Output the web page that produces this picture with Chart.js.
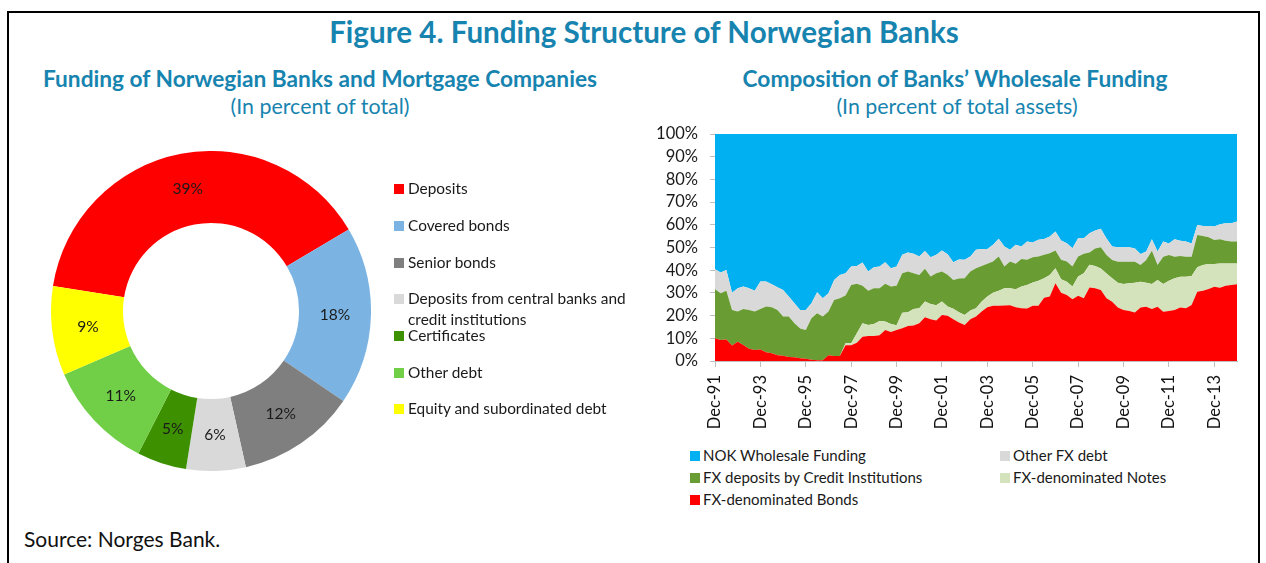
<!DOCTYPE html>
<html>
<head>
<meta charset="utf-8">
<script src="https://cdn.jsdelivr.net/npm/chart.js@4"></script>
<style>
  body { margin: 0; width: 1266px; height: 563px; background: #fff; font-family: Lato, sans-serif; overflow: hidden; position: relative; }
  .frame { position: absolute; left: 7px; top: 11px; width: 1249px; height: 600px; border: 2px solid #000; }
  .t { position: absolute; color: #1784b0; white-space: nowrap; text-align: center; }
  .main { left: 0; width: 1288px; top: 14px; font-size: 29.6px; font-weight: bold; }
  .sub { font-size: 22.7px; font-weight: bold; }
  .unit { font-size: 21.4px; }
  #donut { position: absolute; left: 51px; top: 151px; }
  #area { position: absolute; left: 640px; top: 124px; }
  .lg { position: absolute; font-size: 15.4px; color: #1a1a1a; line-height: 21px; }
  .lg span.b { display: inline-block; width: 10px; height: 10px; margin-right: 4px; vertical-align: 0px; }
  .src { position: absolute; left: 24px; top: 526px; font-size: 21px; color: #111; }
</style>
</head>
<body>
<div class="frame"></div>
<div class="t main">Figure 4. Funding Structure of Norwegian Banks</div>
<div class="t sub" style="left:20px;width:600px;top:65px;">Funding of Norwegian Banks and Mortgage Companies</div>
<div class="t unit" style="left:20px;width:600px;top:93px;">(In percent of total)</div>
<div class="t sub" style="left:655px;width:600px;top:65px;">Composition of Banks’ Wholesale Funding</div>
<div class="t unit" style="left:657px;width:600px;top:93px;">(In percent of total assets)</div>
<canvas id="donut" width="320" height="320"></canvas>
<canvas id="area" width="610" height="320"></canvas>
<div id="legendLeft"></div>
<div id="legendRight"></div>
<div class="src">Source: Norges Bank.</div>
<script>
// left chart: funding shares
let fundingLabels = ["Deposits", "Covered bonds", "Senior bonds", "Deposits from central banks and credit institutions", "Certificates", "Other debt", "Equity and subordinated debt"];
let fundingShares = [39, 18, 12, 6, 5, 11, 9];
let fundingColors = ["#ff0000", "#7bb4e3", "#7f7f7f", "#d9d9d9", "#3d9100", "#70cf46", "#ffff00"];

// right chart: quarterly, Dec-91 .. Dec-14
let quarters = [
  "Dec-91",
  "Mar-92","Jun-92","Sep-92","Dec-92", "Mar-93","Jun-93","Sep-93","Dec-93",
  "Mar-94","Jun-94","Sep-94","Dec-94", "Mar-95","Jun-95","Sep-95","Dec-95",
  "Mar-96","Jun-96","Sep-96","Dec-96", "Mar-97","Jun-97","Sep-97","Dec-97",
  "Mar-98","Jun-98","Sep-98","Dec-98", "Mar-99","Jun-99","Sep-99","Dec-99",
  "Mar-00","Jun-00","Sep-00","Dec-00", "Mar-01","Jun-01","Sep-01","Dec-01",
  "Mar-02","Jun-02","Sep-02","Dec-02", "Mar-03","Jun-03","Sep-03","Dec-03",
  "Mar-04","Jun-04","Sep-04","Dec-04", "Mar-05","Jun-05","Sep-05","Dec-05",
  "Mar-06","Jun-06","Sep-06","Dec-06", "Mar-07","Jun-07","Sep-07","Dec-07",
  "Mar-08","Jun-08","Sep-08","Dec-08", "Mar-09","Jun-09","Sep-09","Dec-09",
  "Mar-10","Jun-10","Sep-10","Dec-10", "Mar-11","Jun-11","Sep-11","Dec-11",
  "Mar-12","Jun-12","Sep-12","Dec-12", "Mar-13","Jun-13","Sep-13","Dec-13",
  "Mar-14","Jun-14","Sep-14","Dec-14"
];
let fxBonds = [
  10.0,9.3,9.5,6.8,8.5,7.0,5.4,4.8,5.1,3.8, 3.4,2.5,2.3,1.8,1.6,1.2,1.0,0.6,0.3,0.3,
  2.5,2.2,2.2,6.9,6.9,8.0,10.7,11.0,11.0,11.3, 13.7,12.8,13.7,14.4,15.4,15.6,16.6,19.3,18.4,17.8,
  20.3,19.9,18.4,17.0,15.9,18.4,19.6,21.8,23.7,24.3, 24.3,24.4,24.6,23.7,23.2,23.1,24.3,24.3,27.9,28.4,
  34.3,30.1,29.1,27.2,28.7,27.6,32.4,32.0,31.3,27.6, 26.1,23.6,22.5,22.0,21.4,23.6,23.9,22.9,23.9,21.7,
  22.0,22.5,23.6,23.2,24.7,30.5,31.0,31.7,32.7,32.3, 33.2,33.5,33.8
];
let fxNotes = [
  0,0,0,0,0,0,0,0,0,0, 0,0,0,0,0,0,0,0,0,0,
  0,0,0,0.9,0.9,4.2,5.9,4.9,5.3,6.3, 3.7,3.5,2.0,6.9,6.1,7.3,6.6,6.9,6.7,6.8,
  5.9,4.1,4.6,4.5,4.4,3.8,3.6,4.4,4.7,5.8, 6.7,7.7,7.5,7.9,9.6,10.4,10.3,11.1,8.6,9.5,
  6.6,5.9,5.8,5.6,8.5,11.1,10.0,9.9,9.5,11.0, 10.3,10.9,11.4,12.2,13.1,11.3,10.6,11.0,11.8,12.2,
  13.4,13.9,13.5,13.9,12.7,10.8,11.3,11.0,10.0,10.7, 9.8,9.5,9.2
];
let fxDeposits = [
  21.6,20.6,21.5,15.7,13.3,15.9,17.1,17.0,17.8,20.2, 20.3,20.0,17.3,17.8,15.0,13.1,12.7,18.2,20.7,19.3,
  19.3,24.7,25.4,21.0,25.7,21.8,16.6,15.1,15.8,14.5, 16.6,16.5,17.4,17.4,17.9,15.8,14.7,14.4,12.1,14.1,
  13.2,14.0,12.7,14.8,16.2,17.2,17.7,15.7,14.4,13.7, 15.0,9.5,11.7,11.2,12.1,11.1,11.1,10.6,10.3,9.6,
  7.8,8.6,8.9,8.8,8.8,8.5,5.4,7.7,9.3,8.1, 8.1,9.2,9.8,9.5,9.2,7.4,10.0,14.7,6.6,12.0,
  11.3,9.5,9.2,8.8,8.5,14.2,12.8,11.8,10.6,10.6, 10.0,9.6,9.6
];
let otherFx = [
  8.8,9.1,9.1,7.6,10.2,9.9,9.5,9.2,12.1,11.0, 10.1,10.0,11.7,8.8,8.8,8.2,8.8,6.6,9.3,8.0,
  8.1,8.8,10.3,9.9,8.1,7.9,10.2,8.4,9.2,9.5, 9.5,8.1,8.5,8.1,8.4,8.5,8.1,7.9,8.5,8.1,
  9.3,9.0,7.8,8.4,8.1,6.6,8.1,7.4,6.5,7.4, 7.8,8.8,5.2,8.4,5.5,8.0,6.5,7.4,6.9,7.4,
  8.4,8.5,8.1,8.1,8.1,6.9,8.5,7.9,8.2,7.3, 5.9,6.4,6.4,6.4,5.9,4.8,3.7,5.0,5.9,6.7,
  5.1,7.7,6.7,6.7,5.9,4.4,4.4,5.0,5.9,6.6, 7.7,8.1,8.8
];
let nokWholesale = [
  59.6,61.0,59.9,69.9,68.0,67.2,68.0,69.0,65.0,65.0, 66.2,67.5,68.7,71.6,74.6,77.5,77.5,74.6,69.7,72.4,
  70.1,64.3,62.1,61.3,58.4,58.1,56.6,60.6,58.7,58.4, 56.5,59.1,58.4,53.2,52.2,52.8,54.0,51.5,54.3,53.2,
  51.3,53.0,56.5,55.3,55.4,54.0,51.0,50.7,50.7,48.8, 46.2,49.6,51.0,48.8,49.6,47.4,47.8,46.6,46.3,45.1,
  42.9,46.9,48.1,50.3,45.9,45.9,43.7,42.5,41.7,46.0, 49.6,49.9,49.9,49.9,50.4,52.9,51.8,46.4,51.8,47.4,
  48.2,46.4,47.0,47.4,48.2,40.1,40.5,40.5,40.8,39.8, 39.3,39.3,38.6
];
let yTicks = [0, 10, 20, 30, 40, 50, 60, 70, 80, 90, 100];

let txt = '#1a1a1a';
let axisGrey = '#bfbfbf';

// percent labels in the ring
let sliceLabels = {
    id: 'sliceLabels',
    afterDatasetsDraw(chart) {
        let c = chart.ctx;
        let meta = chart.getDatasetMeta(0);
        c.save();
        c.font = '15.5px Lato';
        c.fillStyle = txt;
        c.textAlign = 'center';
        c.textBaseline = 'middle';
        meta.data.forEach((arc, i) => {
            let p = arc.getProps(['x', 'y', 'startAngle', 'endAngle', 'innerRadius', 'outerRadius']);
            let a = (p.startAngle + p.endAngle) / 2;
            let r = (p.innerRadius + p.outerRadius) / 2;
            c.fillText(fundingShares[i] + '%', p.x + Math.cos(a) * r, p.y + Math.sin(a) * r);
        });
        c.restore();
    }
};

new Chart(document.getElementById('donut').getContext('2d'), {
    type: 'doughnut',
    data: {
        labels: fundingLabels,
        datasets: [{
            data: fundingShares,
            backgroundColor: fundingColors,
            borderWidth: 0,
            hoverOffset: 0
        }]
    },
    options: {
        responsive: false,
        animation: false,
        devicePixelRatio: 1,
        cutout: '55%',
        rotation: -81,
        plugins: { legend: { display: false }, tooltip: { enabled: false } }
    },
    plugins: [sliceLabels]
});

let areaSeries = [
    { label: 'FX-denominated Bonds', data: fxBonds, color: '#ff0000' },
    { label: 'FX-denominated Notes', data: fxNotes, color: '#d5e3bd' },
    { label: 'FX deposits by  Credit Institutions', data: fxDeposits, color: '#699c33' },
    { label: 'Other FX debt', data: otherFx, color: '#d9d9d9' },
    { label: 'NOK Wholesale Funding', data: nokWholesale, color: '#00b0f0' }
];

new Chart(document.getElementById('area').getContext('2d'), {
    type: 'line',
    data: {
        labels: quarters,
        datasets: areaSeries.map((s, i) => ({
            label: s.label,
            data: s.data,
            backgroundColor: s.color,
            borderColor: s.color,
            borderWidth: 0,
            pointRadius: 0,
            fill: i === 0 ? 'origin' : '-1',
            tension: 0
        }))
    },
    options: {
        responsive: false,
        animation: false,
        devicePixelRatio: 1,
        layout: { padding: { top: 10, right: 13 } },
        plugins: { legend: { display: false }, tooltip: { enabled: false } },
        scales: {
            x: {
                grid: { drawOnChartArea: false, color: axisGrey, tickLength: 6 },
                border: { color: axisGrey },
                ticks: { autoSkip: false, minRotation: 90, maxRotation: 90, color: '#111', font: { size: 16.5, family: 'Lato' }, padding: 8 },
                afterBuildTicks: (axis) => { axis.ticks = axis.ticks.filter(t => t.value % 8 === 0); },
                afterFit: (s) => { s.height = 83; s.paddingLeft = 0; s.paddingRight = 0; }
            },
            y: {
                stacked: true,
                min: 0,
                max: 100,
                afterBuildTicks: (axis) => { axis.ticks = yTicks.map(v => ({ value: v })); },
                ticks: { autoSkip: false, callback: v => v + '%', color: txt, font: { size: 16.5, family: 'Lato' }, padding: 12 },
                grid: { drawOnChartArea: false, color: axisGrey, tickLength: 5 },
                border: { color: axisGrey },
                afterFit: (s) => { s.width = 75; s.paddingTop = 0; s.paddingBottom = 0; }
            }
        }
    }
});

// legends
let lgLeft = document.getElementById('legendLeft');
let leftRows = [178, 215, 252, 288, 325, 362, 398];
fundingLabels.forEach((name, i) => {
    let d = document.createElement('div');
    d.className = 'lg';
    d.style.left = '394px';
    d.style.top = leftRows[i] + 'px';
    d.style.width = '240px';
    d.style.paddingLeft = '14px';
    d.style.textIndent = '-14px';
    d.innerHTML = '<span class="b" style="background:' + fundingColors[i] + '"></span>' + name;
    lgLeft.appendChild(d);
});

let lgRight = document.getElementById('legendRight');
let rightOrder = [4, 3, 2, 1, 0];
rightOrder.forEach((k, j) => {
    let s = areaSeries[k];
    let d = document.createElement('div');
    d.className = 'lg';
    d.style.fontSize = '15px';
    d.style.left = (j % 2 === 0 ? 690 : 1000) + 'px';
    d.style.top = (445 + Math.floor(j / 2) * 22) + 'px';
    d.innerHTML = '<span class="b" style="background:' + s.color + ';margin-right:3px"></span>' + s.label;
    lgRight.appendChild(d);
});
</script>
</body>
</html>
